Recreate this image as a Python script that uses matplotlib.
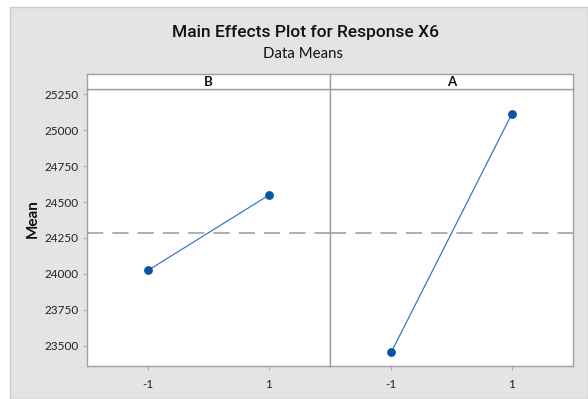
import matplotlib
matplotlib.use("Agg")
import matplotlib.pyplot as plt
from matplotlib.patches import Rectangle

# Factor levels and mean responses
factors = ["B", "A"]
levels = [-1, 1]
means_B = [24026, 24547]
means_A = [23456, 25111]
grand_mean = 24285
y_ticks = [23500, 23750, 24000, 24250, 24500, 24750, 25000, 25250]

W, H = 588, 399
fig = plt.figure(figsize=(W / 100, H / 100), dpi=100)
fig.patch.set_facecolor("white")

# Gray canvas panel behind the plots
fig.patches.append(Rectangle((10 / W, 0), 1 - 10 / W, 1 - 7 / H, transform=fig.transFigure,
                             facecolor="#e4e4e4", edgecolor="#c9c9c9", linewidth=1.0, zorder=-10))

font = "Lato"
fig.text(305.5 / W, 1 - 33 / H, "Main Effects Plot for Response X6", ha="center", va="center",
         fontsize=12.5, fontweight="medium", family="Roboto", color="#111111")
fig.text(303 / W, 1 - 54 / H, "Data Means", ha="center", va="center",
         fontsize=10.8, family=font, color="#111111")
fig.text(33 / W, 1 - 219 / H, "Mean", ha="center", va="center", rotation=90,
         fontsize=11, fontweight="bold", family=font, color="#111111")

left_px, right_px, mid_px = 87, 573, 330
top_px, bot_px, strip_top = 89.3, 366, 74
spine_c = "#a0a0a0"
line_c = "#3a78c0"
mark_c = "#0a55a3"

series = [means_B, means_A]
edges = [(left_px, mid_px), (mid_px, right_px)]
for i, (name, vals, (x0, x1)) in enumerate(zip(factors, series, edges)):
    ax = fig.add_axes([x0 / W, 1 - bot_px / H, (x1 - x0) / W, (bot_px - top_px) / H])
    ax.set_facecolor("white")
    ax.plot(levels, vals, color=line_c, linewidth=0.9, zorder=3)
    ax.plot(levels, vals, "o", color=mark_c, markersize=5.3, zorder=4)
    ax.axhline(grand_mean, color="#a8a8a8", linewidth=1.3, dashes=(9, 5), zorder=2)
    ax.set_xlim(-2.02, 2.02)
    ax.set_ylim(23359, 25285)
    ax.set_xticks(levels)
    ax.set_xticklabels([str(v) for v in levels])
    ax.set_yticks(y_ticks)
    for s in ax.spines.values():
        s.set_color(spine_c)
        s.set_linewidth(1.0)
    ax.tick_params(axis="both", direction="out", length=3, width=0.8, color="#b0b0b0",
                   labelsize=8.5, labelcolor="#222222", pad=3)
    ax.tick_params(axis="x", pad=6)
    for lab in ax.get_xticklabels() + ax.get_yticklabels():
        lab.set_family(font)
    if i > 0:
        ax.tick_params(axis="y", left=False, labelleft=False)

    # Strip header with factor name
    sx = fig.add_axes([x0 / W, 1 - top_px / H, (x1 - x0) / W, (top_px - strip_top) / H])
    sx.set_facecolor("white")
    sx.set_xticks([])
    sx.set_yticks([])
    for s in sx.spines.values():
        s.set_color(spine_c)
        s.set_linewidth(1.0)
    sx.text(0.5, 0.45, name, ha="center", va="center", fontsize=9.5, fontweight="bold",
            family=font, color="#111111", transform=sx.transAxes)

fig.savefig("out.png", dpi=100)
